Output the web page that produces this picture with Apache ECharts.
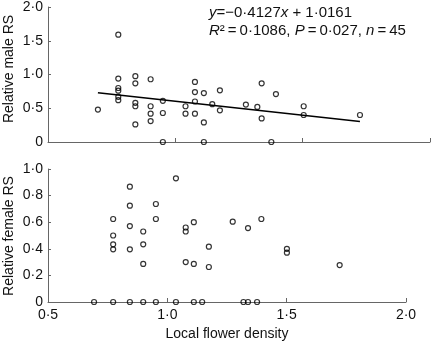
<!DOCTYPE html>
<html>
<head>
<meta charset="utf-8">
<script src="https://cdn.jsdelivr.net/npm/echarts@6/dist/echarts.min.js"></script>
<style>html,body{margin:0;padding:0;background:#fff}#c{width:431px;height:344px}</style>
</head>
<body>
<div id="c"></div>
<script>
// ---- data ----
const maleX = [0.696,
  0.776,0.776,0.776,0.776,0.776,0.776,
  0.843,0.843,0.843,0.843,0.843,
  0.903,0.903,0.903,0.903,
  0.951,0.951,0.951,
  1.040,1.040,
  1.077,1.077,1.077,1.077,
  1.112,1.112,1.112,
  1.145,
  1.175,1.175,
  1.277,1.322,1.339,1.339,1.395,1.377,
  1.504,1.504,1.725];
const maleY = [0.48,
  1.59,0.94,0.80,0.76,0.67,0.62,
  0.975,0.87,0.58,0.53,0.26,
  0.93,0.53,0.42,0.31,
  0.61,0.43,0,
  0.53,0.42,
  0.89,0.74,0.60,0.42,
  0.725,0.29,0,
  0.56,
  0.765,0.47,
  0.554,0.52,0.87,0.35,0.71,0,
  0.53,0.40,0.40];
const femaleX = [0.693,
  0.773,0.773,0.773,0.773,0.773,
  0.843,0.843,0.843,0.843,0.843,
  0.899,0.899,0.899,0.899,
  0.952,0.952,0.952,
  1.036,1.036,
  1.077,1.077,1.077,
  1.111,1.111,1.111,
  1.146,
  1.174,1.174,
  1.274,1.319,1.338,1.338,1.376,1.394,
  1.501,1.501,1.722];
const femaleY = [0,
  0.624,0.50,0.434,0.396,0,
  0.867,0.724,0.571,0.396,0,
  0.53,0.434,0.286,0,
  0.737,0.624,0,
  0.93,0,
  0.56,0.53,0.30,
  0.60,0.286,0,
  0,
  0.416,0.263,
  0.604,0,0.556,0,0,0.624,
  0.40,0.371,0.278];
const slope = -0.4127, intercept = 1.0161;
const xTickLabels = ['0·5','1·0','1·5','2·0'];
const maleYTickLabels = ['0','0·5','1·0','1·5','2·0'];
const femaleYTickLabels = ['0','0·2','0·4','0·6','0·8','1·0'];
const maleYName = 'Relative male RS';
const femaleYName = 'Relative female RS';
const xName = 'Local flower density';

// ---- chart ----
const FONT = '"Liberation Sans", Arial, Helvetica, sans-serif';
const axisColor = '#666';
const zip = (xs, ys) => xs.map((x, i) => [x, ys[i]]);
const xMinM = Math.min(...maleX), xMaxM = Math.max(...maleX);
const regLine = [[xMinM, slope * xMinM + intercept], [xMaxM, slope * xMaxM + intercept]];

function yAxis(gridIndex, max, interval, labels) {
  return {
    gridIndex, type: 'value', min: 0, max, interval,
    axisLine: {show: true, lineStyle: {color: axisColor, width: 1}},
    axisTick: {show: true, inside: true, length: 3, lineStyle: {color: axisColor}},
    splitLine: {show: false},
    axisLabel: {
      margin: 5, color: '#111', fontSize: 14, fontFamily: FONT,
      formatter: v => labels[Math.round(v / interval)]
    }
  };
}
function xAxis(gridIndex, showLabels) {
  return {
    gridIndex, type: 'value', min: 0.5, max: 2.0, interval: 0.5,
    axisLine: {show: true, onZero: false, lineStyle: {color: axisColor, width: 1}},
    axisTick: {show: true, inside: true, length: 4, lineStyle: {color: axisColor}},
    splitLine: {show: false},
    axisLabel: {
      show: showLabels, margin: 6, color: '#111', fontSize: 14, fontFamily: FONT,
      formatter: v => xTickLabels[Math.round((v - 0.5) / 0.5)]
    }
  };
}
const sym = {symbol: 'circle', symbolSize: 5, itemStyle: {color: 'rgba(0,0,0,0)', borderColor: '#000', borderWidth: 1.2}};

const chart = echarts.init(document.getElementById('c'), null, {renderer: 'canvas'});
chart.setOption({
  animation: false,
  backgroundColor: '#fff',
  grid: [
    {left: 48, top: 6, width: 382, height: 136},
    {left: 48, top: 169, width: 358, height: 133}
  ],
  xAxis: [xAxis(0, false), xAxis(1, true)],
  yAxis: [yAxis(0, 2.0, 0.5, maleYTickLabels), yAxis(1, 1.0, 0.2, femaleYTickLabels)],
  series: [
    Object.assign({type: 'scatter', xAxisIndex: 0, yAxisIndex: 0, data: zip(maleX, maleY), z: 3}, sym),
    {type: 'line', xAxisIndex: 0, yAxisIndex: 0, data: regLine, symbol: 'none',
     lineStyle: {color: '#000', width: 1.5}, z: 2},
    Object.assign({type: 'scatter', xAxisIndex: 1, yAxisIndex: 1, data: zip(femaleX, femaleY), z: 3}, sym)
  ],
  graphic: [
    {type: 'text', x: 9, y: 69, rotation: Math.PI / 2,
     style: {text: maleYName, fontSize: 14, fontFamily: FONT, fill: '#111', align: 'center', verticalAlign: 'middle'}},
    {type: 'text', x: 9, y: 236, rotation: Math.PI / 2,
     style: {text: femaleYName, fontSize: 14, fontFamily: FONT, fill: '#111', align: 'center', verticalAlign: 'middle'}},
    {type: 'text', x: 227, y: 334,
     style: {text: xName, fontSize: 14, fontFamily: FONT, fill: '#111', align: 'center', verticalAlign: 'middle'}},
    {type: 'text', x: 209, y: 13,
     style: {text: '{i|y}=\u22120·4127{i|x} + 1·0161', fontSize: 15, fontFamily: FONT, fill: '#111',
       align: 'left', verticalAlign: 'middle',
       rich: {i: {fontStyle: 'italic', fontSize: 15, fontFamily: FONT, fill: '#111'}}}},
    {type: 'text', x: 209, y: 31,
     style: {text: '{i|R}²\u2009=\u20090·1086, {i|P}\u2009=\u20090·027, {i|n}\u2009=\u200945', fontSize: 15, fontFamily: FONT, fill: '#111',
       align: 'left', verticalAlign: 'middle',
       rich: {i: {fontStyle: 'italic', fontSize: 15, fontFamily: FONT, fill: '#111'}}}}
  ]
});
</script>
</body>
</html>
